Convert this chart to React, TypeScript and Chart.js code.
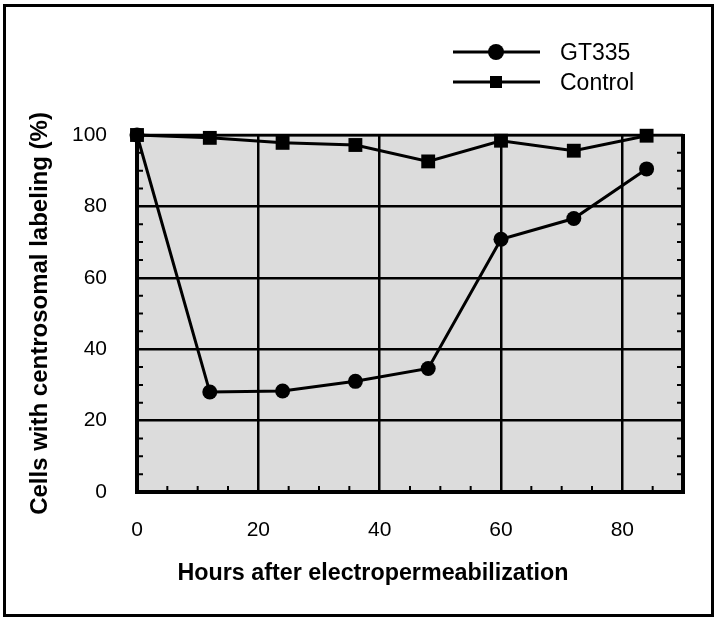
import React, { useEffect, useRef } from 'react';
import { Chart, registerables } from 'chart.js';

Chart.register(...registerables);

// ---- data ----
const hours = [0, 12, 24, 36, 48, 60, 72, 84];
const gt335 = [100, 28, 28.3, 31, 34.6, 70.8, 76.6, 90.5];
const control = [100, 99.2, 97.8, 97.2, 92.6, 98.4, 95.6, 99.8];
const xTickValues = [0, 20, 40, 60, 80];
const seriesNames = ['GT335', 'Control'];
const xTitle = 'Hours after electropermeabilization';
const yTitle = 'Cells with centrosomal labeling (%)';

const FONT = "'Liberation Sans', Arial, Helvetica, sans-serif";

const decorPlugin = {
  id: 'decor',
  beforeDraw(chart: any) {
    const { ctx, chartArea } = chart;
    ctx.save();
    ctx.fillStyle = '#ffffff';
    ctx.fillRect(0, 0, chart.width, chart.height);
    ctx.fillStyle = '#dcdcdc';
    ctx.fillRect(chartArea.left, chartArea.top, chartArea.right - chartArea.left, chartArea.bottom - chartArea.top);
    ctx.restore();
  },
  afterDraw(chart: any) {
    const { ctx, chartArea, scales } = chart;
    const xs = scales.x;
    const ys = scales.y;
    ctx.save();
    ctx.strokeStyle = '#000';
    ctx.lineCap = 'butt';
    // minor ticks
    ctx.lineWidth = 2;
    ctx.beginPath();
    for (let v = 5; v < 100; v += 5) {
      if (v % 20 === 0) continue;
      const py = ys.getPixelForValue(v);
      ctx.moveTo(chartArea.left, py);
      ctx.lineTo(chartArea.left + 6, py);
      ctx.moveTo(chartArea.right, py);
      ctx.lineTo(chartArea.right - 6, py);
    }
    for (let v = 5; v < 90; v += 5) {
      if (v % 20 === 0) continue;
      const px = xs.getPixelForValue(v);
      ctx.moveTo(px, chartArea.bottom);
      ctx.lineTo(px, chartArea.bottom - 6);
    }
    ctx.stroke();
    // right border
    ctx.lineWidth = 4;
    ctx.beginPath();
    ctx.moveTo(chartArea.right, chartArea.top - 1);
    ctx.lineTo(chartArea.right, chartArea.bottom + 2);
    ctx.stroke();
    // top border
    ctx.lineWidth = 2.5;
    ctx.beginPath();
    ctx.moveTo(chartArea.left, chartArea.top);
    ctx.lineTo(chartArea.right, chartArea.top);
    ctx.stroke();

    // outer frame
    ctx.lineWidth = 3;
    ctx.strokeRect(4.5, 5.5, 708, 610);

    // x title
    ctx.fillStyle = '#000';
    ctx.font = `bold 23.3px ${FONT}`;
    ctx.textAlign = 'center';
    ctx.textBaseline = 'alphabetic';
    ctx.fillText(xTitle, 373, 580);

    // legend
    const rows = [52, 82];
    const styles = ['circle', 'rect'];
    ctx.font = `23px ${FONT}`;
    ctx.textAlign = 'left';
    rows.forEach((y, i) => {
      ctx.lineWidth = 3;
      ctx.beginPath();
      ctx.moveTo(453, y);
      ctx.lineTo(540, y);
      ctx.stroke();
      ctx.fillStyle = '#000';
      if (styles[i] === 'circle') {
        ctx.beginPath();
        ctx.arc(496, y, 8, 0, Math.PI * 2);
        ctx.fill();
      } else {
        ctx.fillRect(496 - 6, y - 6, 12, 12);
      }
      ctx.fillText(seriesNames[i], 560, y + 8);
    });
    ctx.restore();
  },
};

export default function App() {
  const ref = useRef<HTMLCanvasElement>(null);
  useEffect(() => {
    if (!ref.current) return;
    const chart = new Chart(ref.current, {
      type: 'line',
      data: {
        datasets: [
          {
            label: seriesNames[0],
            data: hours.map((h, i) => ({ x: h, y: gt335[i] })),
            borderColor: '#000',
            backgroundColor: '#000',
            borderWidth: 3,
            pointStyle: 'circle',
            pointRadius: 7.5,
            pointBorderWidth: 0,
            pointBackgroundColor: '#000',
            tension: 0,
            clip: false as any,
            order: 1,
          },
          {
            label: seriesNames[1],
            data: hours.map((h, i) => ({ x: h, y: control[i] })),
            borderColor: '#000',
            backgroundColor: '#000',
            borderWidth: 3,
            pointStyle: 'rect',
            pointRadius: 9.8,
            pointBorderWidth: 0,
            pointBackgroundColor: '#000',
            tension: 0,
            clip: false as any,
            order: 0,
          },
        ],
      },
      options: {
        responsive: false,
        animation: false,
        devicePixelRatio: 1,
        layout: { padding: { left: 26, top: 135, right: 37, bottom: 0 } },
        plugins: {
          legend: { display: false },
          tooltip: { enabled: false },
        },
        scales: {
          x: {
            type: 'linear',
            min: 0,
            max: 90,
            afterBuildTicks: (scale: any) => {
              scale.ticks = xTickValues.map((v) => ({ value: v }));
            },
            afterFit: (scale: any) => {
              scale.height = 132;
            },
            ticks: {
              color: '#000',
              font: { family: FONT, size: 21 },
              padding: 26,
              maxRotation: 0,
            },
            grid: { color: '#000', lineWidth: 2.5, drawTicks: false },
            border: { display: true, color: '#000', width: 4 },
          },
          y: {
            type: 'linear',
            min: 0,
            max: 100,
            ticks: {
              stepSize: 20,
              color: '#000',
              font: { family: FONT, size: 21 },
              padding: 30,
            },
            afterFit: (scale: any) => {
              scale.width = 111;
            },
            grid: { color: '#000', lineWidth: 2.5, drawTicks: false },
            border: { display: true, color: '#000', width: 4 },
            title: {
              display: true,
              text: yTitle,
              color: '#000',
              font: { family: FONT, size: 24, weight: 'bold' },
              padding: { top: 0, bottom: 0 },
            },
          },
        },
      },
      plugins: [decorPlugin],
    });
    return () => chart.destroy();
  }, []);
  return (
    <div style={{ position: 'absolute', left: 0, top: 0, width: 720, height: 624 }}>
      <canvas ref={ref} width={720} height={624} style={{ display: 'block', width: 720, height: 624 }} />
    </div>
  );
}
